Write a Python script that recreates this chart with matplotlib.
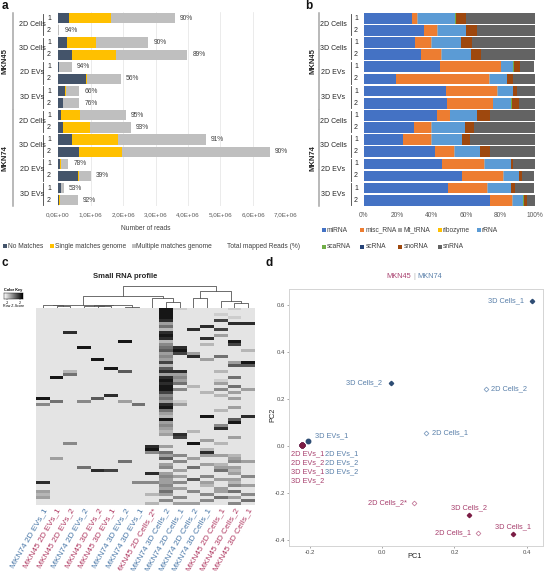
import numpy as np
import matplotlib
matplotlib.use("Agg")
import matplotlib.pyplot as plt
from matplotlib.patches import Rectangle
from matplotlib.colors import LinearSegmentedColormap

plt.rcParams['font.family'] = ['Liberation Sans', 'DejaVu Sans']

W, H = 546, 571

# ---------------- data ----------------
# panel a / b rows: 2 cell lines x 4 conditions x 2 replicates
cell_lines = ["MKN45", "MKN74"]
conditions = ["2D Cells", "3D Cells", "2D EVs", "3D EVs"]
replicates = ["1", "2"]

# panel a, number of reads (x 1e6)
no_match = [0.35, 0.005, 0.27, 0.44, 0.03, 0.85, 0.22, 0.16,
            0.08, 0.16, 0.44, 0.65, 0.06, 0.60, 0.08, 0.03]
single_match = [1.28, 0.005, 0.90, 1.34, 0.0, 0.05, 0.02, 0.0,
                0.60, 0.82, 1.42, 1.31, 0.03, 0.06, 0.0, 0.03]
multiple_match = [1.97, 0.03, 1.61, 2.20, 0.40, 1.03, 0.42, 0.50,
                  1.41, 1.27, 2.69, 4.56, 0.23, 0.34, 0.10, 0.54]
mapped_pct = [90, 94, 90, 89, 94, 56, 66, 76, 95, 93, 91, 90, 78, 39, 53, 92]
reads_ticks = [0, 1e6, 2e6, 3e6, 4e6, 5e6, 6e6, 7e6]
reads_ticklabels = ["0,0E+00", "1,0E+06", "2,0E+06", "3,0E+06",
                    "4,0E+06", "5,0E+06", "6,0E+06", "7,0E+06"]

# panel b, small RNA composition (%)
rna_types = ["miRNA", "misc_RNA", "Mt_tRNA", "ribozyme", "rRNA",
             "scaRNA", "scRNA", "snoRNA", "snRNA"]
miRNA = [28.6, 35.2, 30.0, 33.7, 44.5, 19.0, 48.0, 48.9, 42.9, 29.4, 23.2, 42.0, 45.8, 57.6, 49.3, 73.9]
misc_RNA = [2.7, 7.9, 9.7, 11.9, 35.8, 54.5, 30.3, 26.9, 7.4, 10.3, 16.5, 11.2, 24.8, 24.2, 23.2, 13.1]
Mt_tRNA = [0.3, 0.3, 0.3, 0.3, 0.2, 0.2, 0.2, 0.2, 0.3, 0.3, 0.3, 0.3, 0.2, 0.2, 0.2, 0.2]
ribozyme = [0, 0, 0, 0, 0.1, 0, 0, 0, 0, 0, 0, 0, 0, 0, 0, 0]
rRNA = [22.2, 16.6, 17.1, 17.0, 7.1, 10.3, 8.9, 10.5, 15.9, 19.4, 17.6, 14.6, 15.3, 8.9, 13.4, 6.2]
scaRNA = [0.1, 0.1, 0.1, 0.1, 0.5, 0.2, 0.3, 0.2, 0.1, 0.1, 0.1, 0.1, 0.2, 0.2, 0.2, 0.2]
scRNA = [0, 0, 0, 0, 0, 0, 0, 0, 0, 0, 0, 0, 0, 0, 0, 0]
snoRNA = [6.2, 6.1, 6.1, 6.0, 3.6, 3.0, 2.3, 4.2, 7.2, 5.4, 4.3, 6.0, 1.3, 1.4, 2.5, 1.9]
snRNA = [39.9, 33.8, 36.7, 31.0, 8.2, 12.8, 10.0, 9.1, 26.2, 35.1, 38.0, 25.8, 12.4, 7.5, 11.2, 4.5]
pct_ticks = [0, 20, 40, 60, 80, 100]
pct_ticklabels = ["0%", "20%", "40%", "60%", "80%", "100%"]

# panel c, heatmap columns (dendrogram order) and intensity levels 0-9
heat_columns = ["MKN74 2D EVs_1", "MKN45 2D EVs_1", "MKN45 2D EVs_2", "MKN74 2D EVs_2",
                "MKN45 3D EVs_2", "MKN45 3D EVs_1", "MKN74 3D EVs_2", "MKN74 3D EVs_1",
                "MKN45 2D Cells_2*", "MKN74 3D Cells_2", "MKN74 2D Cells_1", "MKN74 2D Cells_2",
                "MKN74 3D Cells_1", "MKN45 2D Cells_1", "MKN45 3D Cells_2", "MKN45 3D Cells_1"]
heat_rows = [
    "00000000 09100010", "00000000 09000000", "00000000 09000100", "00000000 09000010",
    "00000000 08000700", "00000000 03000088", "00000000 05008000", "00000000 02080700",
    "00800000 08000000", "00000000 09000300", "00000000 08008000", "00000090 02000090",
    "00000000 04002070", "00090000 05800000", "00000000 06900002", "00000000 03730000",
    "00000000 04080500", "00009000 03003000", "00000000 07000039", "00000000 02000066",
    "00000900 06000000", "00200060 08800200", "00500000 03300000", "09000000 08400050",
    "00000000 09300100", "00000000 08500300", "00000000 09020050", "00000000 09400403",
    "00000000 07002030", "00000800 04000200", "90006000 05000030", "05040030 03100000",
    "40000005 08300000", "00000000 09000030", "00000000 05000200", "00000000 03000000",
    "00000000 02009008", "00000000 09000060", "00000000 03000090", "00000000 04000400",
    "00000000 03000800", "00000000 02020000", "00000000 03800000", "00000000 00700030",
    "00000000 00003000", "00400000 00090200", "00000000 83000000", "00000000 90002000",
    "00000000 45008000", "00000000 03403320", "03000000 06030030", "00000050 00400043",
    "00000000 03003200", "00050000 04050330", "00008700 00300520", "00000000 83000030",
    "00000000 04304004", "00000000 03060330", "80000004 43403020", "00000000 04002043",
    "00000000 03300300", "30000000 05040350", "20000000 23004004", "30000000 00400530",
    "00000000 04004005", "00000000 20330040",
]
# dendrogram merges: (child, child, height); leaves 0-15, merges numbered from 16
dendro_merges = [(1, 2, 1.5), (0, 16, 2.5), (4, 5, 1.5), (3, 18, 2.0), (6, 7, 1.0),
                 (19, 20, 2.5), (17, 21, 3.0), (9, 10, 5.7), (8, 23, 9.0), (22, 24, 11.3),
                 (11, 12, 8.7), (14, 15, 4.7), (13, 27, 6.3), (26, 28, 15.3), (25, 29, 20.0)]

# panel d, PCA
pca_samples = ["2D Cells_1", "2D Cells_2", "3D Cells_1", "3D Cells_2",
               "2D EVs_1", "2D EVs_2", "3D EVs_1", "3D EVs_2"]
pc1_mkn74 = [0.122, 0.286, 0.414, 0.025, -0.222, -0.222, -0.205, -0.222]
pc2_mkn74 = [0.055, 0.243, 0.618, 0.267, 0.004, 0.004, 0.021, 0.004]
pca_samples_45 = ["2D Cells_1", "2D Cells_2*", "3D Cells_1", "3D Cells_2",
                  "2D EVs_1", "2D EVs_2", "3D EVs_1", "3D EVs_2"]
pc1_mkn45 = [0.266, 0.087, 0.361, 0.241, -0.223, -0.223, -0.223, -0.223]
pc2_mkn45 = [-0.370, -0.241, -0.376, -0.296, 0.003, 0.003, 0.003, 0.003]

# ---------------- layout ----------------
fig = plt.figure(figsize=(W / 100, H / 100), dpi=100)


def rect(x0, y0, x1, y1):
    return [x0 / W, 1 - y1 / H, (x1 - x0) / W, (y1 - y0) / H]


ov = fig.add_axes([0, 0, 1, 1], zorder=10)
ov.set_xlim(0, W)
ov.set_ylim(H, 0)
ov.axis('off')

row_y = [18.3 + 12.13 * i for i in range(16)]
rows = np.arange(16)
TXT = "#262626"


def row_labels(x_grp, x_line, x_cond, x_brk, x_num):
    for g, name in enumerate(cell_lines):
        y0, y1 = row_y[g * 8] - 5.5, row_y[g * 8 + 7] + 5.5
        ov.plot([x_line, x_line], [y0, y1], color="#a6a6a6", lw=1.1)
        ov.text(x_grp, (y0 + y1) / 2, name, rotation=90, ha='center', va='center',
                fontsize=5.5, fontweight='bold', color=TXT)
        for c, cond in enumerate(conditions):
            i = g * 8 + c * 2
            ov.text(x_cond, (row_y[i] + row_y[i + 1]) / 2, cond, ha='center', va='center',
                    fontsize=5, color=TXT)
            ov.plot([x_brk, x_brk], [row_y[i] - 4.8, row_y[i + 1] + 4.8], color="#404040", lw=0.6)
            for k, rep in enumerate(replicates):
                ov.text(x_num, row_y[i + k], rep, ha='center', va='center', fontsize=5, color=TXT)


def legend_item(x, y, color, label):
    ov.add_patch(Rectangle((x, y - 2), 4, 4, color=color, lw=0))
    ov.text(x + 5, y, label, ha='left', va='center', fontsize=4.8, color="#404040")


# ---------------- panel a ----------------
nm = np.array(no_match) * 1e6
sm = np.array(single_match) * 1e6
mm = np.array(multiple_match) * 1e6
axa = fig.add_axes(rect(58, 12.2, 285.5, 206.3))
axa.barh(rows, nm, height=0.84, color="#44546A", zorder=2)
axa.barh(rows, sm, left=nm, height=0.84, color="#FFC000", zorder=2)
axa.barh(rows, mm, left=nm + sm, height=0.84, color="#BFBFBF", zorder=2)
for r, t, p in zip(rows, nm + sm + mm, mapped_pct):
    axa.annotate(f"{p}%", (t, r), xytext=(5, 0), textcoords="offset pixels",
                 va='center', ha='left', fontsize=4.8, color="#404040")
axa.set_xlim(0, 7e6)
axa.set_ylim(15.5, -0.5)
axa.set_xticks(reads_ticks, reads_ticklabels, fontsize=4.5, color="#595959")
axa.set_yticks([])
axa.tick_params(length=0, pad=4)
axa.grid(axis='x', color="#e3e3e3", lw=0.5)
axa.set_axisbelow(True)
for s in axa.spines.values():
    s.set_visible(False)
axa.patch.set_alpha(0)
row_labels(5.3, 12.8, 32, 43, 49)
ov.text(146, 229, "Number of reads", ha='center', va='center', fontsize=4.8, color="#404040")
legend_item(3, 246, "#44546A", "No Matches")
legend_item(50, 246, "#FFC000", "Single matches genome")
legend_item(131.5, 246, "#BFBFBF", "Multiple matches genome")
ov.text(227, 246, "Total mapped Reads (%)", ha='left', va='center', fontsize=4.8, color="#404040")

# ---------------- panel b ----------------
rna_colors = ["#4472C4", "#ED7D31", "#A5A5A5", "#FFC000", "#5B9BD5",
              "#70AD47", "#264478", "#9E480E", "#636363"]
series = [miRNA, misc_RNA, Mt_tRNA, ribozyme, rRNA, scaRNA, scRNA, snoRNA, snRNA]
axb = fig.add_axes(rect(363.5, 12.2, 534.5, 206.3))
left = np.zeros(16)
for vals, col in zip(series, rna_colors):
    axb.barh(rows, vals, left=left, height=0.88, color=col, lw=0)
    left += np.array(vals)
axb.set_xlim(0, 100)
axb.set_ylim(15.5, -0.5)
axb.set_xticks(pct_ticks, pct_ticklabels, fontsize=4.8, color="#595959")
axb.set_yticks([])
axb.tick_params(length=0, pad=4)
for s in axb.spines.values():
    s.set_visible(False)
axb.patch.set_alpha(0)
row_labels(313.3, 318.5, 333.3, 351, 356)
leg_x = [321.7, 360.3, 398.3, 437.7, 476.7]
for k, (name, col) in enumerate(zip(rna_types, rna_colors)):
    legend_item(leg_x[k % 5], 230 if k < 5 else 247, col, name)

# ---------------- panel c ----------------
heat = np.array([[int(ch) for ch in r.replace(" ", "")] for r in heat_rows], dtype=float)
cmap = LinearSegmentedColormap.from_list("grey", ["#f2f2f2", "#161616"])
axc = fig.add_axes(rect(36, 308, 255, 505))
axc.imshow(heat, cmap=cmap, vmin=-0.6, vmax=9, aspect='auto', interpolation='nearest')
axc.set_xticks([])
axc.set_yticks([])
for s in axc.spines.values():
    s.set_visible(False)

col_w = (255 - 36) / 16
for j, name in enumerate(heat_columns):
    color = "#4a78a8" if name.startswith("MKN74") else "#b03a62"
    ov.text(36 + col_w * (j + 0.5) + 3, 509, name, rotation=60, rotation_mode='anchor',
            ha='right', va='center', fontsize=6, color=color)

# dendrogram
axd = fig.add_axes(rect(36, 285, 255, 308))
axd.set_xlim(0, 16)
axd.set_ylim(0, 21)
axd.axis('off')
pos = {i: (i + 0.5, 0.0) for i in range(16)}
for k, (a, b, h) in enumerate(dendro_merges):
    xa, ha_ = pos[a]
    xb, hb = pos[b]
    axd.plot([xa, xa, xb, xb], [ha_, h, h, hb], color="#555555", lw=0.6)
    pos[16 + k] = ((xa + xb) / 2, h)

ov.text(125, 277, "Small RNA profile", ha='center', va='center', fontsize=5.5,
        fontweight='bold', color=TXT)
# color key
axk = fig.add_axes(rect(4, 293, 23, 299))
axk.imshow(np.linspace(0, 1, 60)[None, :], cmap=LinearSegmentedColormap.from_list(
    "key", ["#ffffff", "#000000"]), aspect='auto', extent=(-3, 3, 0, 1))
axk.set_xticks([-2, 2], ["-2", "2"], fontsize=2.6)
axk.set_yticks([])
axk.tick_params(length=1, pad=0.5, width=0.3)
for s in axk.spines.values():
    s.set_linewidth(0.3)
ov.text(13.5, 290, "Color Key", ha='center', va='center', fontsize=2.8, fontweight='bold')
ov.text(13.5, 306, "Row Z-Score", ha='center', va='center', fontsize=2.6)

# ---------------- panel d ----------------
C74_PT, C74_TXT, C74_OPEN = "#2e4d74", "#5a80aa", "#7f9dc0"
C45_PT, C45_TXT, C45_OPEN = "#7b1d45", "#a8406e", "#c47b9a"
axp = fig.add_axes(rect(289, 289, 543, 546))
axp.set_xlim(-0.258, 0.445)
axp.set_ylim(-0.426, 0.668)

label_off_74 = [(6, 0, 'left'), (5, 0, 'left'), (-8, 0, 'right'), (-9, 0, 'right'),
                (23, -8.3, 'left'), (23, -17.3, 'left'), (7, 5.7, 'left'), (23, -26.7, 'left')]
label_off_45 = [(-7, 0, 'right'), (-7, 0, 'right'), (0, 7.3, 'center'), (0, 7.7, 'center'),
                (-11, -8.3, 'left'), (-11, -17.3, 'left'), (-11, -26.7, 'left'), (-11, -35.7, 'left')]


def pca_points(names, pc1, pc2, c_pt, c_open, c_txt, offs):
    for name, x, y, (dx, dy, ha) in zip(names, pc1, pc2, offs):
        if "EVs" in name:
            axp.plot(x, y, 'o', ms=3.2, color=c_pt, mec=c_pt)
        elif name.startswith("3D"):
            axp.plot(x, y, 'D', ms=2.2, color=c_pt, mec=c_pt)
        else:
            axp.plot(x, y, 'D', ms=2.4, mfc='white', mec=c_open, mew=0.6)
        axp.annotate(name, (x, y), xytext=(dx, dy), textcoords='offset pixels',
                     ha=ha, va='center', fontsize=5.3, color=c_txt)


pca_points(pca_samples, pc1_mkn74, pc2_mkn74, C74_PT, C74_OPEN, C74_TXT, label_off_74)
pca_points(pca_samples_45, pc1_mkn45, pc2_mkn45, C45_PT, C45_OPEN, C45_TXT, label_off_45)
axp.set_xticks([-0.2, 0.0, 0.2, 0.4], ["-0.2", "0.0", "0.2", "0.4"])
axp.set_yticks([-0.4, -0.2, 0.0, 0.2, 0.4, 0.6], ["-0.4", "-0.2", "0.0", "0.2", "0.4", "0.6"])
axp.tick_params(labelsize=4.3, labelcolor="#4d4d4d", length=1.5, width=0.4, color="#666666", pad=1.5)
for s in axp.spines.values():
    s.set_color("#d4d4d4")
    s.set_linewidth(0.7)
ov.text(415, 557, "PC1", ha='center', va='center', fontsize=5.3, color=TXT)
ov.text(273, 415, "PC2", ha='center', va='center', fontsize=5.3, rotation=90, color=TXT)
ov.text(411, 277, "MKN45", ha='right', va='center', fontsize=5.3, color=C45_TXT)
ov.text(414, 277, "|", ha='center', va='center', fontsize=5.3, color="#b0b0b0")
ov.text(417, 277, "MKN74", ha='left', va='center', fontsize=5.3, color=C74_TXT)

# panel letters
for letter, x, y in [("a", 5, 6), ("b", 309, 6), ("c", 5, 263), ("d", 269, 263)]:
    ov.text(x, y, letter, ha='center', va='center', fontsize=8.5, fontweight='bold', color="#111111")

fig.savefig("out.png", dpi=100)
